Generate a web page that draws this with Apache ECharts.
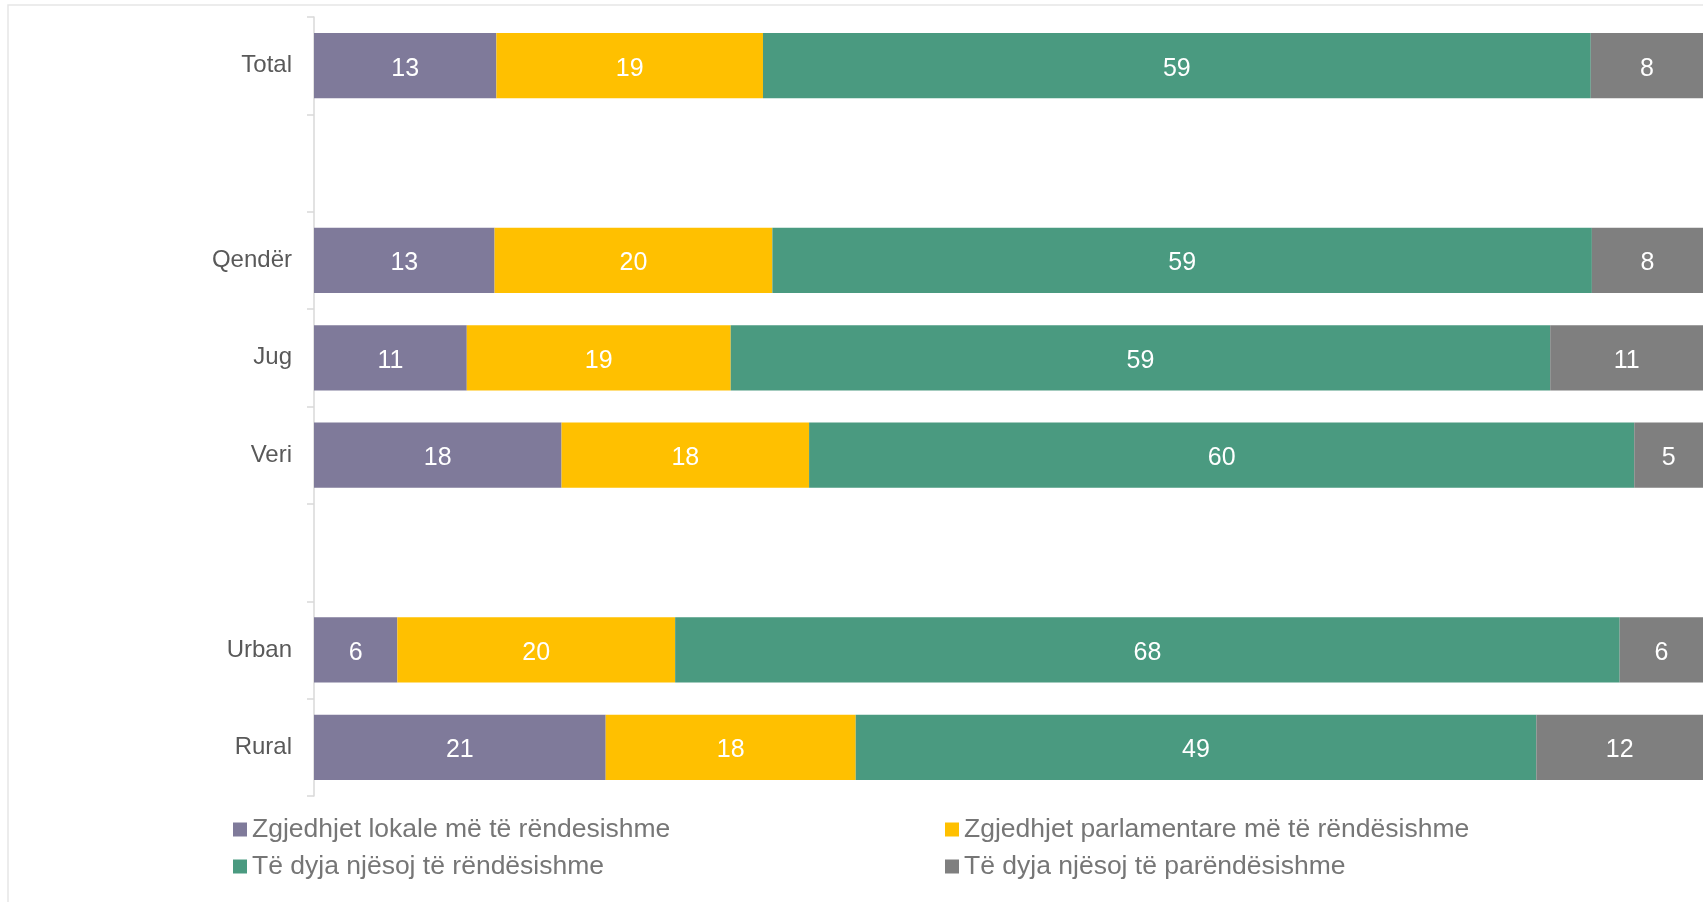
<!DOCTYPE html>
<html>
<head>
<meta charset="utf-8">
<script src="https://cdn.jsdelivr.net/npm/echarts@6.0.0/dist/echarts.min.js"></script>
<style>
  html, body { margin: 0; padding: 0; background: #fff; }
  #chart { width: 1703px; height: 902px; }
</style>
</head>
<body>
<div id="chart"></div>
<script>
// rows from top to bottom, empty rows are spacers
var categories = ['Total', '', 'Qendër', 'Jug', 'Veri', ' ', 'Urban', 'Rural'];
var lokale = [13, null, 13, 11, 18, null, 6, 21];
var parlamentare = [19, null, 20, 19, 18, null, 20, 18];
var njesoj = [59, null, 59, 59, 60, null, 68, 49];
var parendesishme = [8, null, 8, 11, 5, null, 6, 12];

var seriesNames = [
    'Zgjedhjet lokale më të rëndesishme',
    'Zgjedhjet parlamentare më të rëndësishme',
    'Të dyja njësoj të rëndësishme',
    'Të dyja njësoj të parëndësishme'
];
var colors = ['#7f7a9a', '#ffc000', '#4a9a80', '#7f7f7f'];
var allValues = [lokale, parlamentare, njesoj, parendesishme];

// 100% stacked: each row is scaled to its own total
var rowTotals = categories.map(function (c, i) {
    var s = 0;
    allValues.forEach(function (arr) { s += arr[i] || 0; });
    return s;
});

var series = allValues.map(function (arr, k) {
    return {
        name: seriesNames[k],
        type: 'bar',
        stack: 'all',
        barCategoryGap: '33%',
        itemStyle: { color: colors[k] },
        label: {
            show: true,
            position: 'inside',
            offset: [0, 3],
            color: '#fff',
            fontFamily: 'Liberation Sans, Arial, sans-serif',
            fontSize: 25,
            formatter: function (p) { return p.data.raw; }
        },
        data: arr.map(function (v, i) {
            if (v == null) return { value: null, raw: '' };
            return { value: v / rowTotals[i] * 100, raw: v };
        })
    };
});

var legendText = {
    color: '#767676',
    fontFamily: 'Liberation Sans, Arial, sans-serif',
    fontSize: 26.5
};
function oneLegend(name, left, top) {
    return {
        data: [name],
        left: left,
        top: top,
        orient: 'horizontal',
        icon: 'rect',
        itemWidth: 14,
        itemHeight: 14,
        itemGap: 0,
        padding: 0,
        selectedMode: false,
        textStyle: legendText
    };
}

var myChart = echarts.init(document.getElementById('chart'));
var option = {
    backgroundColor: '#fff',
    animation: false,
    graphic: [{
        type: 'rect',
        shape: { x: 8, y: 5, width: 1800, height: 1000 },
        style: { fill: 'none', stroke: '#e6e6e6', lineWidth: 1.5 },
        silent: true
    }],
    grid: { left: 314, right: 0, top: 17, bottom: 106, containLabel: false },
    legend: [
        oneLegend(seriesNames[0], 233, 816),
        oneLegend(seriesNames[1], 945, 816),
        oneLegend(seriesNames[2], 233, 853),
        oneLegend(seriesNames[3], 945, 853)
    ],
    xAxis: {
        type: 'value',
        min: 0,
        max: 100,
        show: false
    },
    yAxis: {
        type: 'category',
        inverse: true,
        data: categories,
        axisLine: { show: true, lineStyle: { color: '#d9d9d9', width: 1.5 } },
        axisTick: { show: true, length: 7, lineStyle: { color: '#d9d9d9', width: 1.5 } },
        axisLabel: {
            color: '#595959',
            fontFamily: 'Liberation Sans, Arial, sans-serif',
            fontSize: 24,
            margin: 22,
            padding: [10, 0, 0, 0]
        }
    },
    series: series
};
myChart.setOption(option);
</script>
</body>
</html>
